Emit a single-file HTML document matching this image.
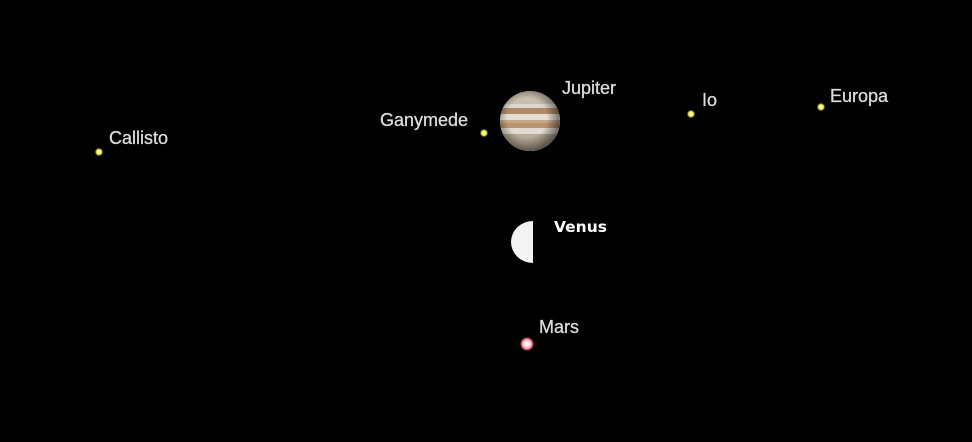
<!DOCTYPE html>
<html><head><meta charset="utf-8"><style>
html,body{margin:0;padding:0;background:#000;}
body{width:972px;height:437px;position:relative;overflow:hidden;}
</style></head><body>
<svg width="972" height="437" viewBox="0 0 972 437" xmlns="http://www.w3.org/2000/svg">
<defs>
<radialGradient id="moon" cx="50%" cy="50%" r="50%">
<stop offset="0" stop-color="#ffffb0"/><stop offset="0.6" stop-color="#f2f060"/><stop offset="1" stop-color="#a0a020" stop-opacity="0.3"/>
</radialGradient>
<radialGradient id="mars" cx="50%" cy="50%" r="50%">
<stop offset="0" stop-color="#fff"/><stop offset="0.45" stop-color="#ffe0e0"/><stop offset="0.8" stop-color="#e06070"/><stop offset="1" stop-color="#802030" stop-opacity="0.2"/>
</radialGradient>
<radialGradient id="jshade" cx="45%" cy="45%" r="55%">
<stop offset="0.6" stop-color="#000" stop-opacity="0"/><stop offset="1" stop-color="#000" stop-opacity="0.5"/>
</radialGradient>
<clipPath id="jc"><circle cx="530" cy="121" r="30"/></clipPath>
</defs>
<rect width="972" height="437" fill="#000"/>
<g clip-path="url(#jc)">
<rect x="498" y="89" width="64" height="64" fill="#c9beae"/>
<rect x="498" y="104" width="64" height="4" fill="#ddd6cc"/>
<rect x="498" y="108" width="64" height="6" fill="#b08a66"/>
<rect x="498" y="114" width="64" height="6" fill="#e4ddd2"/>
<rect x="498" y="120" width="64" height="3" fill="#c4a888"/>
<rect x="498" y="123" width="64" height="5" fill="#bb9270"/>
<rect x="498" y="128" width="64" height="6" fill="#e0dad0"/>
<rect x="498" y="134" width="64" height="19" fill="#b6aa98"/>
<circle cx="530" cy="121" r="30" fill="url(#jshade)"/>
</g>
<path d="M533,221 A22,21 0 0 0 533,263 Z" fill="#f4f4f4"/>
<circle cx="527" cy="344" r="7" fill="url(#mars)"/>
<circle cx="99" cy="152" r="4" fill="url(#moon)"/>
<circle cx="484" cy="133" r="4" fill="url(#moon)"/>
<circle cx="691" cy="114" r="4" fill="url(#moon)"/>
<circle cx="821" cy="107" r="4" fill="url(#moon)"/>
<g font-family="Liberation Sans, sans-serif" font-size="18" fill="#dcdcdc" stroke="#dcdcdc" stroke-width="0.3">
<text x="109" y="144">Callisto</text>
<text x="380" y="126">Ganymede</text>
<text x="562" y="94">Jupiter</text>
<text x="702" y="106">Io</text>
<text x="830" y="102">Europa</text>
<text x="539" y="333">Mars</text>
</g>
<text x="554" y="232" font-family="DejaVu Sans, sans-serif" font-weight="bold" font-size="15.5" fill="#fff">Venus</text>
</svg>
</body></html>
